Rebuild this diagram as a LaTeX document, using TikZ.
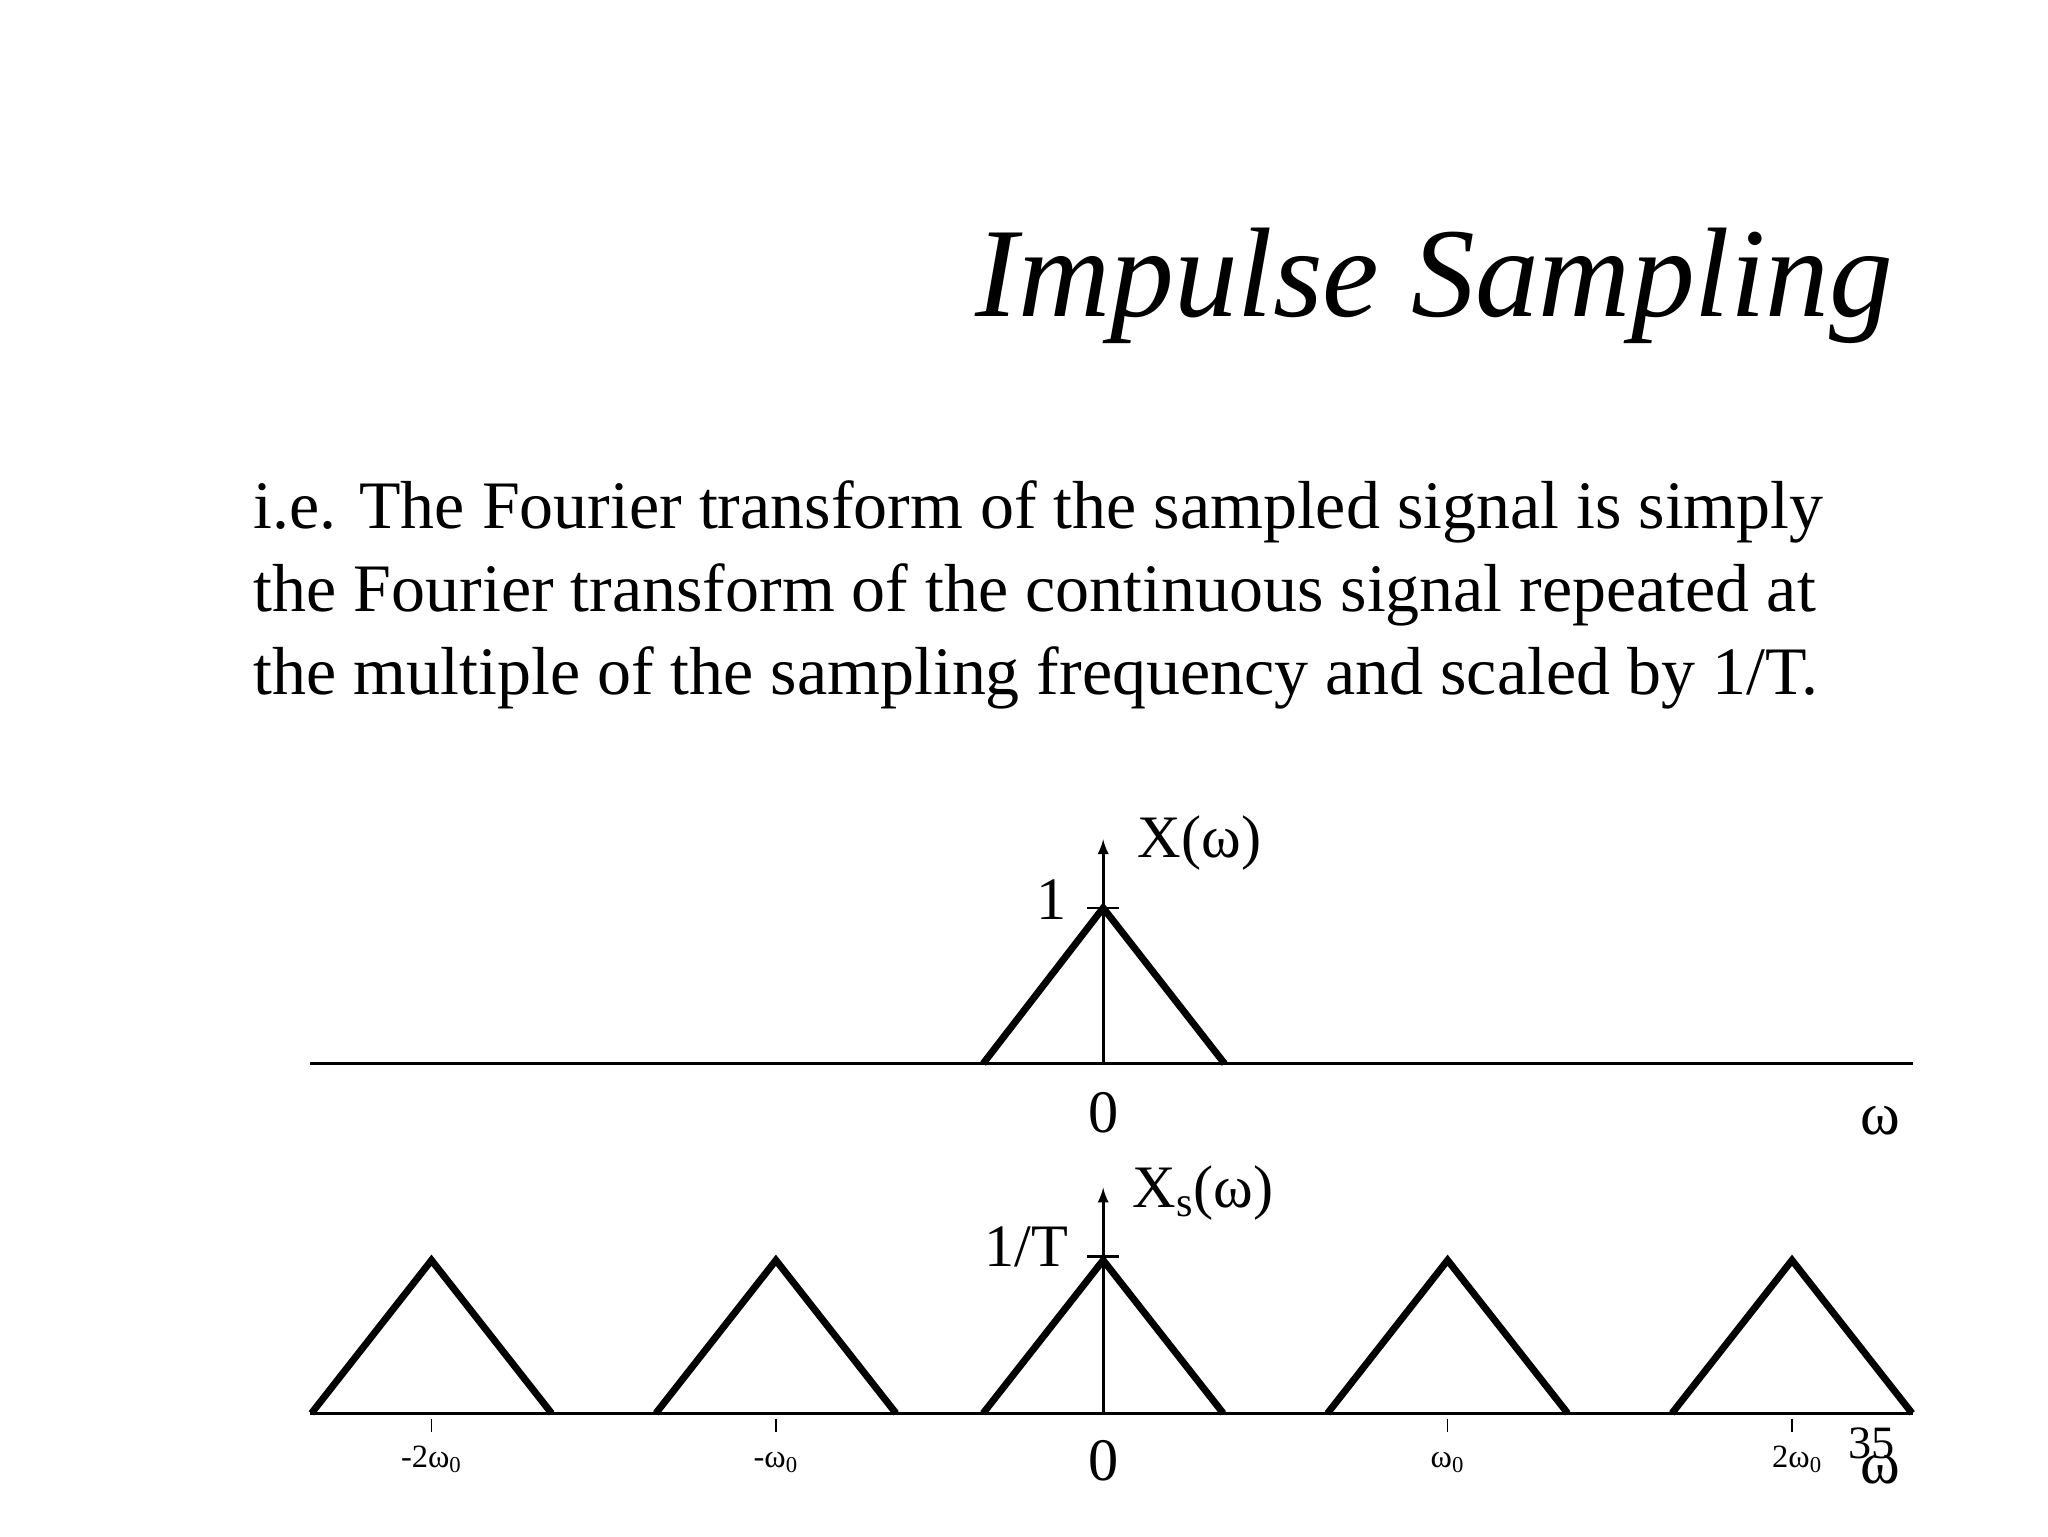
\documentclass[tikz,border=0pt]{standalone}
\usepackage{fontspec}
\setmainfont{Liberation Serif}
\newcommand{\lowsub}[1]{\textsubscript{#1}}
\begin{document}
\begin{tikzpicture}[x=0.02cm,y=-0.02cm,
  ax/.style={line width=1.2pt},
  tri/.style={line width=3pt},
  big/.style={font=\fontsize{26}{30}\selectfont,inner sep=0},
  sm/.style={font=\fontsize{14}{16}\selectfont,inner sep=0}]
\useasboundingbox (0,0) rectangle (1552,1164);
\node[anchor=base east,inner sep=0,font=\fontsize{55}{60}\selectfont\itshape] (title) at (1435,240) {Impulse Sampling};
\node[anchor=base west,inner sep=0,font=\fontsize{29.3}{35.8}\selectfont,align=left] (txt) at (192,526) {i.e. The Fourier transform of the sampled signal is simply\\the Fourier transform of the continuous signal repeated at\\the multiple of the sampling frequency and scaled by 1/T.};
% top plot
\coordinate (a1) at (235,806); \coordinate (a2) at (1450,806);
\coordinate (v1) at (836,806); \coordinate (v2) at (836,636);
\draw[ax] (a1) -- (a2);
\draw[ax,-latex] (v1) -- (v2);
\draw[ax] (824,688) -- (848,688);
\draw[tri] (745,806) -- (836,688) -- (928,806);
\node[big,anchor=base] (one) at (797,697) {1};
\node[big,anchor=base west] (X) at (862,650) {X(ω)};
\node[big,anchor=base] (z1) at (836,858) {0};
\node[big,anchor=base] (w1) at (1425,860) {ω};
% bottom plot
\coordinate (b1) at (235,1071); \coordinate (b2) at (1450,1071);
\coordinate (u1) at (836,1071); \coordinate (u2) at (836,900);
\draw[ax] (b1) -- (b2);
\draw[ax,-latex] (u1) -- (u2);
\draw[ax] (824,952) -- (848,952);
\foreach \c in {327,588,836,1097,1358}{
  \draw[tri] (\c-91,1071) -- (\c,955) -- (\c+91,1071);
}
\foreach \c in {327,588,1097,1358}{\draw[line width=0.6pt] (\c,1075) -- (\c,1085);}
\node[sm,anchor=base] (m2) at (327,1112) {-2ω\lowsub{0}};
\node[sm,anchor=base] (m1) at (588,1112) {-ω\lowsub{0}};
\node[sm,anchor=base] (p1) at (1097,1112) {ω\lowsub{0}};
\node[sm,anchor=base] (p2) at (1362,1112) {2ω\lowsub{0}};
\node[big,anchor=base] (z2) at (836,1122) {0};
\node[big,anchor=base] (w2) at (1425,1124) {ω};
\node[font=\fontsize{20}{22}\selectfont,inner sep=0,anchor=base] (pg) at (1418,1105) {35};
\node[big,anchor=base] (oneT) at (778,960) {1/T};
\node[big,anchor=base west] (Xs) at (858,915) {X\lowsub{s}(ω)};
\end{tikzpicture}
\end{document}
